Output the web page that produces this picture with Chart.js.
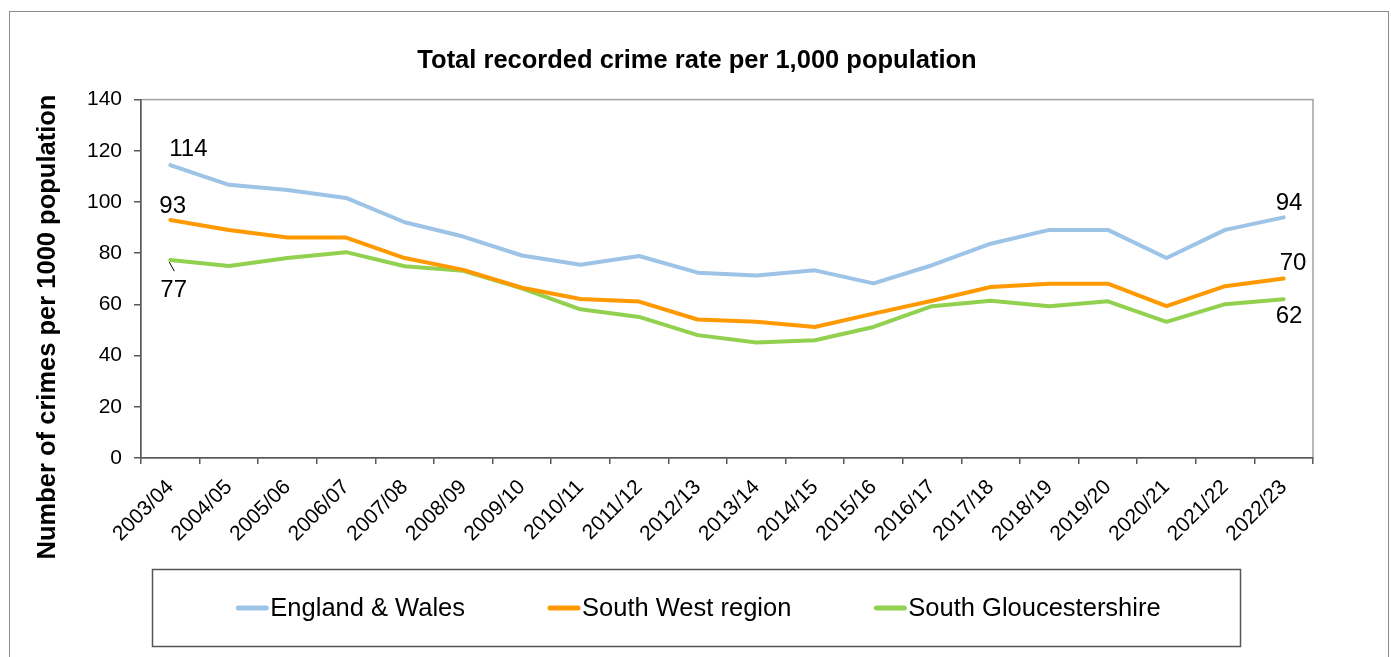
<!DOCTYPE html>
<html>
<head>
<meta charset="utf-8">
<script src="https://cdn.jsdelivr.net/npm/chart.js@4.4.0/dist/chart.umd.min.js"></script>
<style>
  html, body { margin: 0; padding: 0; background: #fff; }
</style>
</head>
<body>
<canvas id="crime" width="1391" height="657"></canvas>
<script>
// values
const years = ['2003/04', '2004/05', '2005/06', '2006/07', '2007/08', '2008/09', '2009/10',
  '2010/11', '2011/12', '2012/13', '2013/14', '2014/15', '2015/16', '2016/17', '2017/18',
  '2018/19', '2019/20', '2020/21', '2021/22', '2022/23'];
const englandWales = [114.4, 106.7, 104.7, 101.6, 92.1, 86.5, 79.1, 75.5, 78.9, 72.4,
  71.3, 73.3, 68.2, 75.3, 83.7, 89.1, 89.1, 78.1, 89.1, 94.0];
const southWest = [93.0, 89.1, 86.1, 86.1, 78.1, 73.5, 66.5, 62.1, 61.1, 54.1,
  53.2, 51.2, 56.4, 61.4, 66.8, 68.1, 68.1, 59.3, 67.1, 70.1];
const southGlos = [77.3, 75.0, 78.1, 80.4, 74.9, 73.1, 66.3, 58.1, 55.1, 48.0,
  45.1, 46.0, 51.2, 59.3, 61.4, 59.3, 61.2, 53.2, 60.1, 62.0];
const yMin = 0, yMax = 140, yStep = 20;

const FONT = '"Liberation Sans", Arial, sans-serif';
const AXIS = '#595959';

// end-point value labels: dataset, index, offset of text from the point
const valueLabels = [
  { ds: 0, i: 0, dx: -1, dy: -9 },
  { ds: 1, i: 0, dx: -11, dy: -7 },
  { ds: 2, i: 0, dx: -10, dy: 37, leader: true },
  { ds: 0, i: 19, dx: -8, dy: -7 },
  { ds: 1, i: 19, dx: -4, dy: -9 },
  { ds: 2, i: 19, dx: -8, dy: 24 }
];

const decorations = {
  id: 'decorations',
  beforeDraw(chart) {
    const ctx = chart.ctx;
    const a = chart.chartArea;
    ctx.save();
    ctx.fillStyle = '#fff';
    ctx.fillRect(0, 0, chart.width, chart.height);
    // outer frame
    ctx.strokeStyle = '#8c8c8c';
    ctx.lineWidth = 1;
    ctx.strokeRect(9.5, 11.5, 1379, 700);
    // plot area border (top / right)
    ctx.strokeStyle = '#a0a0a0';
    ctx.lineWidth = 1.5;
    ctx.strokeRect(a.left, a.top, a.right - a.left, a.bottom - a.top);
    ctx.restore();
  },
  afterDraw(chart) {
    const ctx = chart.ctx;
    ctx.save();

    // y axis title
    ctx.translate(48, 327);
    ctx.rotate(-Math.PI / 2);
    ctx.font = 'bold 25.5px ' + FONT;
    ctx.fillStyle = '#000';
    ctx.textAlign = 'center';
    ctx.textBaseline = 'middle';
    ctx.fillText('Number of crimes per 1000 population', 0, 0);
    ctx.setTransform(1, 0, 0, 1, 0, 0);

    // value labels
    ctx.font = '24px ' + FONT;
    ctx.textAlign = 'left';
    ctx.textBaseline = 'alphabetic';
    valueLabels.forEach(l => {
      const pt = chart.getDatasetMeta(l.ds).data[l.i];
      const v = chart.data.datasets[l.ds].data[l.i];
      ctx.fillText(String(Math.round(v)), pt.x + l.dx, pt.y + l.dy);
      if (l.leader) {
        ctx.strokeStyle = '#000';
        ctx.lineWidth = 1;
        ctx.beginPath();
        ctx.moveTo(pt.x - 1, pt.y + 2);
        ctx.lineTo(pt.x + 4, pt.y + 11);
        ctx.stroke();
      }
    });

    // legend
    ctx.strokeStyle = '#555';
    ctx.lineWidth = 1.5;
    ctx.strokeRect(152.5, 569.5, 1088, 77);
    ctx.font = '25.5px ' + FONT;
    ctx.textBaseline = 'middle';
    const sample = 32, gap = 2, between = 83, ly = 608;
    const sets = chart.data.datasets;
    const widths = sets.map(d => ctx.measureText(d.label).width);
    let total = between * (sets.length - 1);
    widths.forEach(w => { total += sample + gap + w; });
    let x = 698.5 - total / 2;
    sets.forEach((d, k) => {
      ctx.strokeStyle = d.borderColor;
      ctx.lineWidth = 5;
      ctx.lineCap = 'round';
      ctx.beginPath();
      ctx.moveTo(x + 2, ly);
      ctx.lineTo(x + sample - 2, ly);
      ctx.stroke();
      ctx.fillStyle = '#000';
      ctx.fillText(d.label, x + sample + gap, ly + 1);
      x += sample + gap + widths[k] + between;
    });
    ctx.restore();
  }
};

const chart = new Chart(document.getElementById('crime'), {
  type: 'line',
  data: {
    labels: years,
    datasets: [{
      label: 'England & Wales',
      data: englandWales,
      borderColor: '#9DC3E6',
      borderWidth: 4
    }, {
      label: 'South West region',
      data: southWest,
      borderColor: '#FF9900',
      borderWidth: 4
    }, {
      label: 'South Gloucestershire',
      data: southGlos,
      borderColor: '#92D050',
      borderWidth: 4
    }]
  },
  options: {
    responsive: false,
    animation: false,
    layout: { padding: { left: 81, right: 78, top: 0, bottom: 99 } },
    elements: {
      point: { radius: 0, hoverRadius: 0 },
      line: { tension: 0, borderCapStyle: 'round', borderJoinStyle: 'round' }
    },
    scales: {
      x: {
        type: 'category',
        offset: true,
        grid: { offset: true, drawOnChartArea: false, tickLength: 6, color: AXIS, lineWidth: 1.5 },
        border: { color: AXIS, width: 1.5 },
        ticks: {
          autoSkip: false, minRotation: 45, maxRotation: 45, padding: 11,
          color: '#000', font: { family: FONT, size: 21 }
        },
        afterFit(scale) { scale.height = 100; }
      },
      y: {
        min: yMin,
        max: yMax,
        grid: { drawOnChartArea: false, tickLength: 7, color: AXIS, lineWidth: 1.5 },
        border: { color: AXIS, width: 1.5 },
        ticks: { stepSize: yStep, padding: 12, color: '#000', font: { family: FONT, size: 21 } },
        afterFit(scale) { scale.width = 60; }
      }
    },
    plugins: {
      legend: { display: false },
      tooltip: { enabled: false },
      title: {
        display: true,
        text: 'Total recorded crime rate per 1,000 population',
        color: '#000',
        font: { family: FONT, size: 25.5, weight: 'bold' },
        padding: { top: 46, bottom: 23 }
      }
    }
  },
  plugins: [decorations]
});
</script>
</body>
</html>
